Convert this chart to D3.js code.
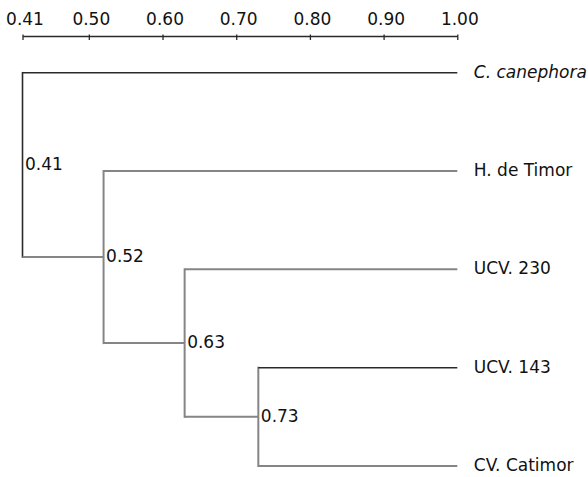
<!DOCTYPE html>
<html>
<head>
<meta charset="utf-8">
<script src="https://cdn.jsdelivr.net/npm/d3@7"></script>
<style>
  html, body { margin: 0; padding: 0; background: #fff; }
  svg { display: block; }
  text { font-family: "DejaVu Sans", sans-serif; fill: #111; }
</style>
</head>
<body>
<div id="chart"></div>
<script>
// ---- Data ----
const leafNames = ["C. canephora", "H. de Timor", "UCV. 230", "UCV. 143", "CV. Catimor"];
const italicLeaves = ["C. canephora"];
const nodeSimilarity = [0.41, 0.52, 0.63, 0.73];
const nodeLabels = ["0.41", "0.52", "0.63", "0.73"];
// children of each internal node: a leaf name or the index of another internal node
const nodeChildren = [["C. canephora", 1], ["H. de Timor", 2], ["UCV. 230", 3], ["UCV. 143", "CV. Catimor"]];
const leafSimilarity = 1.0;
const axisTicks = [0.41, 0.50, 0.60, 0.70, 0.80, 0.90, 1.00];

// ---- Styles (not data) ----
const darkBranches = ["C. canephora", "UCV. 143"];
const darkVerticals = ["0.41"];
const DARK = "#2a2a2a", GRAY = "#858585";

const W = 588, H = 477;
const svg = d3.select("#chart").append("svg").attr("width", W).attr("height", H);

// build hierarchy
function build(i) {
  return {
    name: nodeLabels[i],
    value: nodeSimilarity[i],
    children: nodeChildren[i].map(c => typeof c === "number" ? build(c)
      : { name: c, value: leafSimilarity, leaf: true })
  };
}
const root = d3.hierarchy(build(0));
d3.cluster().nodeSize([1, 1]).separation(() => 1)(root);

const x = d3.scaleLinear().domain([0.41, 1.0]).range([22.5, 457.3]);
const y = d3.scaleLinear().domain(d3.extent(root.leaves(), d => d.x)).range([72.7, 466]);

// axis
const axisG = svg.append("g").attr("transform", "translate(0,36)");
axisG.call(d3.axisTop(x).tickValues(axisTicks).tickFormat(d3.format(".2f"))
  .tickSizeInner(-4).tickSizeOuter(0).tickPadding(11));
axisG.select(".domain").attr("stroke", DARK).attr("stroke-width", 1.5);
axisG.selectAll(".tick line").attr("stroke", DARK).attr("stroke-width", 1.3).attr("y1", -1.5);
axisG.selectAll(".tick text").attr("font-size", 17).attr("font-family", "DejaVu Sans, sans-serif")
  .attr("fill", "#111").attr("dx", 2);

const g = svg.append("g");

// vertical connectors at internal nodes
root.descendants().filter(d => d.children).forEach(d => {
  const ys = d.children.map(c => y(c.x));
  g.append("line")
    .attr("x1", x(d.data.value)).attr("x2", x(d.data.value))
    .attr("y1", d3.min(ys)).attr("y2", d3.max(ys))
    .attr("stroke", darkVerticals.includes(d.data.name) ? DARK : GRAY)
    .attr("stroke-width", darkVerticals.includes(d.data.name) ? 1.6 : 2)
    .attr("stroke-linecap", "square");
});

// horizontal branches from parent to child
root.descendants().filter(d => d.parent).forEach(d => {
  const dark = darkBranches.includes(d.data.name);
  g.append("line")
    .attr("x1", x(d.parent.data.value)).attr("x2", x(d.data.value))
    .attr("y1", y(d.x)).attr("y2", y(d.x))
    .attr("stroke", dark ? DARK : GRAY)
    .attr("stroke-width", dark ? 1.6 : 2);
});

// node labels
root.descendants().filter(d => d.children).forEach(d => {
  g.append("text")
    .attr("x", x(d.data.value) + 2.5).attr("y", y(d.x))
    .attr("dominant-baseline", "middle")
    .attr("font-size", 17)
    .text(d.data.name);
});

// leaf labels
root.leaves().forEach(d => {
  g.append("text")
    .attr("x", x(d.data.value) + 16.5).attr("y", y(d.x))
    .attr("dominant-baseline", "middle")
    .attr("font-size", 17)
    .attr("font-style", italicLeaves.includes(d.data.name) ? "italic" : "normal")
    .text(d.data.name);
});
</script>
</body>
</html>
